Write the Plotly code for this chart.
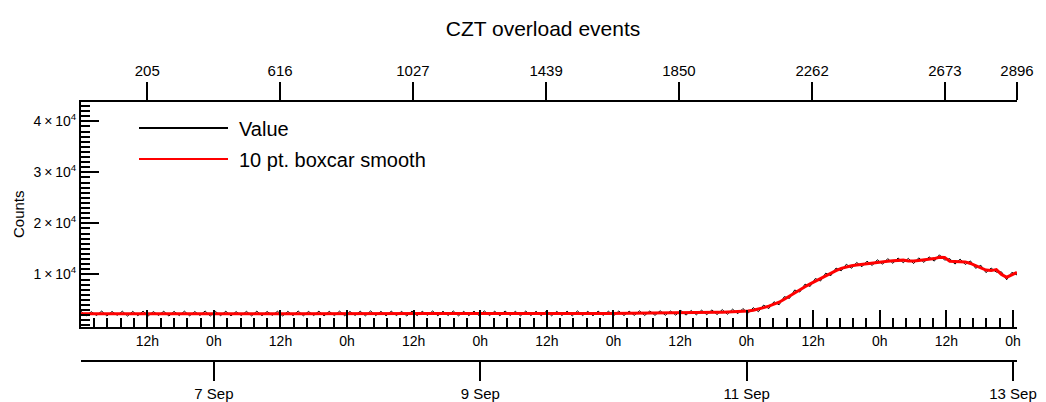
import plotly.graph_objects as go

# ---------------- data ----------------
title_text = "CZT overload events"
y_title = "Counts"
series_names = ["Value", "10 pt. boxcar smooth"]

# point number of each sample (the top axis is the point number)
point_index = list(range(0, 2897, 16))

value_counts = [
    2780, 1880, 2700, 1950, 2820, 1860, 2740, 1990, 2790, 1840,
    2760, 1920, 2810, 1870, 2720, 1970, 2780, 1850, 2760, 1940,
    2800, 1890, 2730, 1960, 2840, 1850, 2750, 1920, 2790, 1880,
    2720, 1950, 2770, 1870, 2810, 1910, 2740, 1980, 2780, 1860,
    2760, 1930, 2830, 1890, 2750, 1950, 2800, 1870, 2770, 1920,
    2810, 1900, 2740, 1960, 2790, 1880, 2850, 1930, 2760, 1890,
    2800, 1940, 2750, 1860, 2820, 1920, 2770, 1970, 2840, 1900,
    2780, 1950, 2830, 1880, 2760, 1930, 2810, 1890, 2850, 1940,
    2790, 1900, 2840, 1960, 2770, 1880, 2820, 1940, 2780, 1910,
    2830, 1890, 2760, 1950, 2800, 1870, 2850, 1930, 2770, 1900,
    2810, 1960, 2790, 1890, 2840, 1940, 2800, 1970, 2870, 1950,
    2850, 1980, 2890, 1990, 2840, 2020, 2930, 2030, 2940, 2090,
    3000, 2110, 3050, 2140, 3110, 2190, 3200, 2290, 3320, 2390,
    3500, 2700, 4000, 3300, 4650, 4050, 5650, 5300, 6950, 6550,
    8100, 7650, 9200, 8700, 10250, 9750, 11250, 10700, 12000, 11200,
    12350, 11500, 12600, 11750, 12880, 12000, 13100, 12170, 13230, 12300,
    13150, 12120, 13250, 12350, 13450, 12600, 13850, 12800, 13100, 12020,
    13000, 11950, 12650, 11200, 11800, 10350, 11250, 10450, 10500, 8950,
    10400, 9900,
]

smooth_counts = [
    2320, 2315, 2310, 2305, 2300, 2300, 2305, 2300, 2295, 2290,
    2290, 2295, 2300, 2305, 2310, 2305, 2300, 2295, 2290, 2285,
    2280, 2285, 2290, 2295, 2300, 2305, 2300, 2295, 2290, 2290,
    2295, 2300, 2305, 2310, 2315, 2310, 2305, 2300, 2300, 2305,
    2310, 2315, 2320, 2315, 2310, 2305, 2300, 2305, 2310, 2315,
    2320, 2325, 2330, 2325, 2320, 2315, 2310, 2315, 2320, 2325,
    2330, 2325, 2320, 2315, 2310, 2315, 2320, 2325, 2330, 2335,
    2330, 2325, 2320, 2325, 2330, 2335, 2340, 2335, 2330, 2325,
    2320, 2325, 2330, 2335, 2340, 2335, 2330, 2325, 2320, 2325,
    2330, 2335, 2330, 2325, 2320, 2315, 2320, 2325, 2330, 2335,
    2340, 2345, 2350, 2355, 2360, 2365, 2370, 2380, 2390, 2400,
    2410, 2420, 2430, 2440, 2450, 2460, 2470, 2480, 2490, 2495,
    2500, 2520, 2540, 2570, 2600, 2640, 2690, 2750, 2810, 2850,
    3000, 3200, 3500, 3800, 4150, 4550, 5150, 5800, 6450, 7050,
    7600, 8150, 8700, 9200, 9750, 10250, 10750, 11200, 11500, 11700,
    11850, 12000, 12100, 12250, 12380, 12500, 12600, 12670, 12730, 12800,
    12650, 12620, 12750, 12850, 12950, 13100, 13350, 13300, 12600, 12520,
    12500, 12450, 12150, 11700, 11300, 10850, 10750, 10950, 10000, 9450,
    9900, 10400,
]

top_tick_vals = [205, 616, 1027, 1439, 1850, 2262, 2673, 2896]
y_tick_vals = [10000, 20000, 30000, 40000]
y_tick_text = ["1\u2009×\u200910<sup>4</sup>", "2\u2009×\u200910<sup>4</sup>",
               "3\u2009×\u200910<sup>4</sup>", "4\u2009×\u200910<sup>4</sup>"]
y_range = [-300, 43780]
index_range = [0, 2896]
time_range = ["2014-09-06 00:03:00", "2014-09-13 00:43:33"]

# ---------------- layout helpers (targets given in page pixels) ----------------
W, H = 1046, 402
PLOT_L, PLOT_R, PLOT_T, PAPER_B = 81, 1017, 102, 361
ML, MR, MT, MB = PLOT_L, W - PLOT_R, PLOT_T, H - PAPER_B
PW, PH = W - ML - MR, H - MT - MB


def px(xp):
    return (xp - ML) / PW


def py(yp):
    return (H - MB - yp) / PH


FONT = "Liberation Sans, Arial, Helvetica, sans-serif"

fig = go.Figure()
fig.add_trace(go.Scatter(x=point_index, y=value_counts, mode="lines",
                         line=dict(color="black", width=1),
                         name=series_names[0], xaxis="x", yaxis="y"))
fig.add_trace(go.Scatter(x=point_index, y=smooth_counts, mode="lines",
                         line=dict(color="#ff0000", width=3),
                         name=series_names[1], xaxis="x", yaxis="y"))
# empty helper traces so the two time axes get drawn
for ax in ("x2", "x3"):
    fig.add_trace(go.Scatter(x=time_range, y=[None, None], mode="lines",
                             xaxis=ax, yaxis="y", showlegend=False,
                             hoverinfo="skip"))

axis_common = dict(showgrid=False, zeroline=False, showline=True,
                   linecolor="black", linewidth=2, tickcolor="black",
                   tickwidth=2, automargin=False)

fig.update_layout(
    width=W, height=H,
    margin=dict(l=ML, r=MR, t=MT, b=MB, pad=0, autoexpand=False),
    paper_bgcolor="white", plot_bgcolor="white",
    showlegend=False,
    font=dict(family=FONT, color="black"),
    title=dict(text=title_text, x=543 / W, y=1 - 29 / H,
               xanchor="center", yanchor="middle",
               font=dict(size=21, family=FONT, color="black")),
    xaxis=dict(type="linear", range=index_range, side="top", anchor="y",
               tickmode="array", tickvals=top_tick_vals,
               ticks="outside", ticklen=18,
               tickfont=dict(size=15), **axis_common),
    xaxis2=dict(type="date", range=time_range, overlaying="x", anchor="y",
                side="bottom", tickmode="linear",
                tick0="2014-09-06 00:00:00", dtick=43200000,
                tickformat="%-Hh", ticks="inside", ticklen=17,
                tickfont=dict(size=14),
                minor=dict(ticks="inside", ticklen=9, tickwidth=2,
                           tickcolor="black", dtick=8640000,
                           tick0="2014-09-06 00:00:00"),
                **axis_common),
    xaxis3=dict(type="date", range=time_range, overlaying="x",
                anchor="free", position=0, side="bottom",
                tickmode="linear", tick0="2014-09-07 00:00:00",
                dtick=172800000, tickformat="%-d %b",
                ticks="outside", ticklen=19,
                tickfont=dict(size=15), **axis_common),
    yaxis=dict(range=y_range, domain=[py(327), 1], anchor="x",
               tickmode="array", tickvals=y_tick_vals, ticktext=y_tick_text,
               ticks="inside", ticklen=18, tickfont=dict(size=14),
               minor=dict(ticks="inside", ticklen=9, tickwidth=2,
                          tickcolor="black", dtick=1000, tick0=0),
               **axis_common),
)

# y-axis title
fig.add_annotation(text=y_title, xref="paper", yref="paper",
                   x=px(18), y=py(214), textangle=-90,
                   showarrow=False, xanchor="center", yanchor="middle",
                   font=dict(size=15, family=FONT, color="black"))

# legend (drawn by hand to match the long sample lines)
legend_rows = [(series_names[0], "black", 128), (series_names[1], "#ff0000", 159)]
for name, color, yp in legend_rows:
    fig.add_shape(type="line", xref="paper", yref="paper",
                  x0=px(139), x1=px(228), y0=py(yp), y1=py(yp),
                  line=dict(color=color, width=2))
    fig.add_annotation(text=name, xref="paper", yref="paper",
                       x=px(237), y=py(yp + 1), showarrow=False,
                       xanchor="left", yanchor="middle",
                       font=dict(size=20, family=FONT, color="black"))

# the page's default 8px body margin would shift the whole figure
fig.write_html("out.html", config={"displayModeBar": False},
               post_script="document.body.style.margin='0px';")
